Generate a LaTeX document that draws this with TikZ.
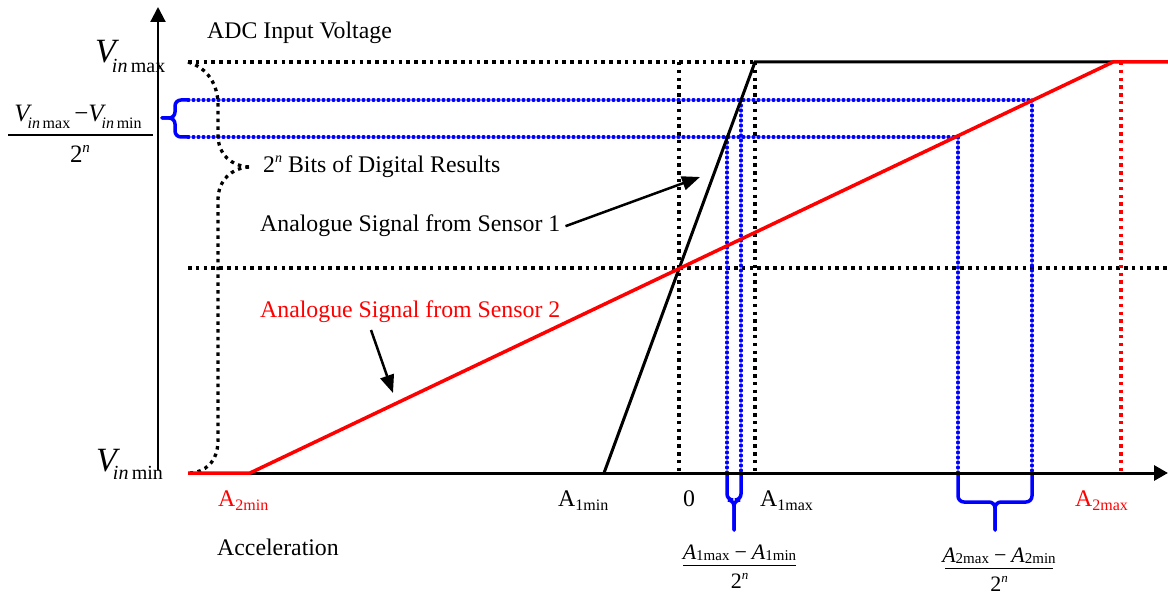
\documentclass[tikz,border=0pt]{standalone}
\usepackage{fontspec}
\setmainfont{Liberation Serif}
\usetikzlibrary{arrows.meta}
\newcommand{\smallsub}[3]{\raisebox{-#1pt}{\fontsize{#2}{#2}\selectfont #3}}
\newcommand{\twon}[2]{2\raisebox{#1pt}{\fontsize{#2}{#2}\selectfont\itshape n}}
\begin{document}
\begin{tikzpicture}[x=1pt,y=-1pt,
  lbl/.style={anchor=base west, inner sep=0pt, font=\fontsize{23.8}{28}\selectfont},
  fracpart/.style={anchor=base, inner sep=0pt},
  fracbar/.style={black, line width=1.2pt},
  dotblk/.style={black, line width=3.5pt, dash pattern=on 3.5pt off 4.3pt},
  dotred/.style={red, line width=3.5pt, dash pattern=on 3.5pt off 4.3pt},
  dotblue/.style={blue, line width=3.2pt, line cap=round, dash pattern=on 1pt off 4pt},
  bracebl/.style={blue, line width=3.5pt, line cap=round, rounded corners=6pt},
  sigone/.style={black, line width=3pt},
  sigtwo/.style={red, line width=3.5pt},
  axisline/.style={black, line width=3pt},
  pointer/.style={black, line width=2.5pt, -{Triangle[length=18pt,width=14pt]}},
]
\useasboundingbox (0,0) rectangle (1168,596);

% coordinates
\coordinate (ybot) at (158,470);
\coordinate (ytop) at (158,7);
\coordinate (xl) at (188,473);
\coordinate (xr) at (1168,473);
\coordinate (p1a) at (604,473);
\coordinate (p1b) at (755,62);
\coordinate (p1c) at (1113,62);
\coordinate (p2a) at (188,473);
\coordinate (p2b) at (250,473);
\coordinate (p2c) at (1113,62);
\coordinate (p2d) at (1168,62);
\coordinate (tl) at (188,62);
\coordinate (ml) at (188,268);
\coordinate (mr) at (1168,268);
\coordinate (zt) at (679,62);
\coordinate (zb) at (679,473);
\coordinate (at) at (755,62);
\coordinate (ab) at (755,473);
\coordinate (rt) at (1121,62);
\coordinate (rb) at (1121,473);

% black dotted guide lines
\draw[dotblk] (tl) -- (p1b);
\draw[dotblk] (ml) -- (mr);
\draw[dotblk] (zt) -- (zb);
\draw[dotblk] (at) -- (ab);
\draw[dotred] (rt) -- (rb);

% blue dotted lines
\coordinate (bu0) at (188,100);
\coordinate (bl0) at (188,137);
\coordinate (bu1) at (741,100);
\coordinate (bl1) at (727,137);
\coordinate (bu2) at (1032,100);
\coordinate (bl2) at (958,137);
\coordinate (bu1b) at (741,473);
\coordinate (bl1b) at (727,473);
\coordinate (bu2b) at (1032,473);
\coordinate (bl2b) at (958,473);
\draw[dotblue] (bu0) -- (bu2);
\draw[dotblue] (bl0) -- (bl2);
\draw[dotblue] (bu1) -- (bu1b);
\draw[dotblue] (bl1) -- (bl1b);
\draw[dotblue] (bu2) -- (bu2b);
\draw[dotblue] (bl2) -- (bl2b);

% blue braces
\draw[bracebl] (bu0) -- (175,100) -- (175,118) -- (162,118);
\draw[bracebl] (bl0) -- (175,137) -- (175,118) -- (162,118);
\draw[bracebl] (bl1b) -- (727,500) -- (734,500) -- (734,530);
\draw[bracebl] (bu1b) -- (741,500) -- (734,500) -- (734,530);
\draw[bracebl] (bl2b) -- (958,502) -- (995,502) -- (995,530);
\draw[bracebl] (bu2b) -- (1032,502) -- (995,502) -- (995,530);

% black dotted curly brace
\coordinate (btip) at (249,167);
\draw[dotblk, line width=3.3pt] (tl) .. controls (208,68) and (218,85) .. (218,105) -- (218,135)
   .. controls (218,155) and (232,166) .. (btip);
\draw[dotblk, line width=3.3pt] (btip) .. controls (232,168) and (218,180) .. (218,200) -- (218,440)
   .. controls (218,462) and (205,473) .. (p2a);

% axes
\draw[black, line width=2.2pt, -{Triangle[length=15pt,width=15pt]}] (ybot) -- (ytop);
\draw[axisline, -{Triangle[length=14pt,width=15pt]}] (xl) -- (xr);

% signals
\draw[sigone] (p1a) -- (p1b) -- (p1c);
\draw[sigtwo] (p2a) -- (p2b) -- (p2c) -- (p2d);

% labels
\node[lbl] (adc) at (207,39) {ADC Input Voltage};
\node[lbl] (bits) at (263,173) {\twon{10}{14}\ Bits of Digital Results};
\node[lbl] (s1) at (260,232) {Analogue Signal from Sensor 1};
\node[lbl, text=red] (s2) at (260,317) {Analogue Signal from Sensor 2};
\node[lbl] (acc) at (217,555) {Acceleration};
\node[lbl] (zero) at (683,506) {0};
\node[lbl] (a1min) at (558,506) {A\smallsub{4}{16}{1min}};
\node[lbl] (a1max) at (760,506) {A\smallsub{4}{16}{1max}};
\node[lbl, text=red] (a2min) at (218,506) {A\smallsub{4}{16}{2min}};
\node[lbl, text=red] (a2max) at (1075,506) {A\smallsub{4}{16}{2max}};

\node[anchor=base west, inner sep=0pt] (vmax) at (95,63)
  {\fontsize{34}{34}\selectfont\itshape V\kern-4pt\smallsub{10}{20}{in\,\upshape max}};
\node[anchor=base west, inner sep=0pt] (vmin) at (96,471)
  {\fontsize{34}{34}\selectfont\itshape V\kern-4pt\smallsub{8}{20}{in\,\upshape min}};

% fraction (Vmax - Vmin)/2^n
\node[fracpart, font=\fontsize{25}{28}\selectfont] (fvnum) at (78,122)
  {\itshape V\kern-2pt\smallsub{7}{16}{in\,\upshape max}\kern4pt\upshape −\itshape V\kern-2pt\smallsub{7}{16}{in\,\upshape min}};
\coordinate (fvl) at (8,135);
\coordinate (fvr) at (153,135);
\draw[fracbar] (fvl) -- (fvr);
\node[fracpart, font=\fontsize{25}{28}\selectfont] (fvden) at (80,163) {\twon{10}{15}};

% fraction (A1max - A1min)/2^n
\node[fracpart, font=\fontsize{22}{26}\selectfont] (fa1num) at (739.5,559.5)
  {\itshape A\smallsub{1}{15}{\upshape 1max}\kern5pt\upshape −\kern5pt\itshape A\smallsub{1}{15}{\upshape 1min}};
\coordinate (fa1l) at (683,565.5);
\coordinate (fa1r) at (796,565.5);
\draw[fracbar] (fa1l) -- (fa1r);
\node[fracpart, font=\fontsize{22}{26}\selectfont] (fa1den) at (739.5,588) {\twon{9}{13}};

% fraction (A2max - A2min)/2^n
\node[fracpart, font=\fontsize{22}{26}\selectfont] (fa2num) at (999,562.5)
  {\itshape A\smallsub{1}{15}{\upshape 2max}\kern5pt\upshape −\kern5pt\itshape A\smallsub{1}{15}{\upshape 2min}};
\coordinate (fa2l) at (945,568.5);
\coordinate (fa2r) at (1053,568.5);
\draw[fracbar] (fa2l) -- (fa2r);
\node[fracpart, font=\fontsize{22}{26}\selectfont] (fa2den) at (999,591) {\twon{9}{13}};

% pointers
\coordinate (s1tip) at (700,177);
\coordinate (s2tail) at (371,330);
\coordinate (s2tip) at (393,393);
\draw[pointer] ([xshift=5pt]s1.east) -- (s1tip);
\draw[pointer] (s2tail) -- (s2tip);
\end{tikzpicture}
\end{document}
